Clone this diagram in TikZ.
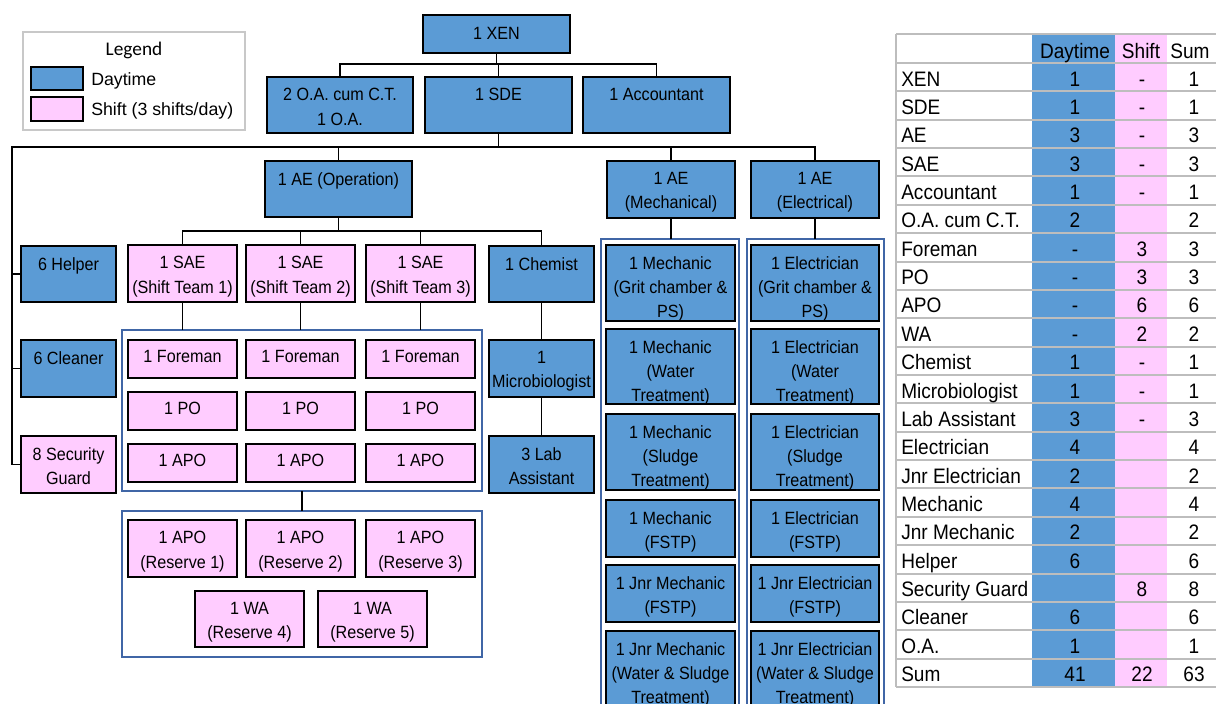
\documentclass[tikz,border=0pt]{standalone}
\usepackage{fontspec}
\setmainfont{Liberation Sans}[FakeStretch=0.91]
\newfontfamily\legfont{Liberation Sans}
\newfontfamily\headfont{Carlito}
\usetikzlibrary{fit}

\definecolor{dayblue}{HTML}{5B9BD5}
\definecolor{shiftpink}{HTML}{FFCCFF}
\definecolor{frameblue}{HTML}{4066A6}
\definecolor{gridgray}{HTML}{BDBDBD}
\definecolor{legendgray}{HTML}{C8C8C8}

\tikzset{
  daybox/.style={draw=black, fill=dayblue, line width=1.4pt, inner sep=0pt},
  shiftbox/.style={draw=black, fill=shiftpink, line width=1.4pt, inner sep=0pt},
  groupframe/.style={draw=frameblue, line width=1.1pt, inner sep=0pt},
  txt/.style={font=\fontsize{13.3}{18.3}\selectfont, align=center, inner sep=0pt, anchor=north},
  conn/.style={draw=black, line width=1.3pt, line cap=rect, line join=miter},
  gridline/.style={draw=gridgray, line width=1.5pt},
  tab/.style={font=\fontsize{15.7}{18}\selectfont, inner sep=0pt},
  legtext/.style={font=\legfont\fontsize{13.3}{16}\selectfont, inner sep=0pt, anchor=base west},
}

% box: [cap offset]{name}{style}{x1}{y1}{x2}{y2}{text}
\newcommand\orgbox[8][11]{%
  \node[#3, fit={(#4,#5)(#6,#7)}] (#2) {};
  \node[txt] (#2-t) at ({(#4+#6)/2},{#5+#1}) {#8};
}

\begin{document}
\begin{tikzpicture}[x=0.75pt, y=-0.75pt]
\useasboundingbox (0,0) rectangle (1216,703);
\clip (0,0) rectangle (1216,703);

% ---------- legend ----------
\node[draw=legendgray, line width=1.1pt, inner sep=0pt, fit={(23,32)(245,130)}] (legend) {};
\node[font=\headfont\fontsize{14.5}{16}\selectfont, inner sep=0pt, anchor=base] (legend-title) at (134,55) {Legend};
\node[daybox, fit={(31,67)(83,90)}] (leg-day) {};
\node[shiftbox, fit={(31,97)(83,121)}] (leg-shift) {};
\node[legtext] (leg-day-t) at (91,85) {Daytime};
\node[legtext] (leg-shift-t) at (91,115.5) {Shift (3 shifts/day)};

% ---------- management ----------
\orgbox[12.5]{xen}{daybox}{423}{15}{570}{53}{1 XEN}
\orgbox{oa}{daybox}{267}{77}{413}{133}{2 O.A. cum C.T.\\1 O.A.}
\orgbox{sde}{daybox}{425}{77}{572}{133}{1 SDE}
\orgbox{acc}{daybox}{583}{77}{730}{133}{1 Accountant}

\orgbox{aeop}{daybox}{265}{161}{412}{217}{1 AE (Operation)}
\orgbox{aemech}{daybox}{607}{161}{735}{218}{1 AE\\(Mechanical)}
\orgbox{aeelec}{daybox}{751}{161}{879}{218}{1 AE\\(Electrical)}

% ---------- general staff ----------
\orgbox{helper}{daybox}{21}{246}{116}{302}{6 Helper}
\orgbox{cleaner}{daybox}{21}{340}{116}{397}{6 Cleaner}
\orgbox{guard}{shiftbox}{21}{436}{116}{493}{8 Security\\Guard}

% ---------- operation shift teams ----------
\node[groupframe, fit={(122,330)(482,491)}] (team) {};
\node[groupframe, fit={(122,511)(482,657)}] (reserve) {};

\foreach \k/\xa/\xb in {1/128/237, 2/246/355, 3/366/475}{
  \orgbox{sae\k}{shiftbox}{\xa}{245}{\xb}{302}{1 SAE\\(Shift Team \k)}
  \orgbox[10]{fore\k}{shiftbox}{\xa}{340}{\xb}{378}{1 Foreman}
  \orgbox[10]{po\k}{shiftbox}{\xa}{392}{\xb}{430}{1 PO}
  \orgbox[10]{apo\k}{shiftbox}{\xa}{444}{\xb}{482}{1 APO}
  \orgbox{res\k}{shiftbox}{\xa}{520}{\xb}{577}{1 APO\\(Reserve \k)}
}
\orgbox{wa4}{shiftbox}{195}{591}{304}{647}{1 WA\\(Reserve 4)}
\orgbox{wa5}{shiftbox}{318}{591}{427}{647}{1 WA\\(Reserve 5)}

% ---------- laboratory ----------
\orgbox{chem}{daybox}{489}{246}{594}{302}{1 Chemist}
\orgbox{micro}{daybox}{489}{340}{594}{397}{1\\Microbiologist}
\orgbox{lab}{daybox}{489}{436}{594}{493}{3 Lab\\Assistant}

% ---------- mechanical and electrical ----------
\node[groupframe, fit={(601,239)(739,730)}] (mechgrp) {};
\node[groupframe, fit={(747,239)(884,730)}] (elecgrp) {};

\orgbox{mech1}{daybox}{606}{245}{735}{321}{1 Mechanic\\(Grit chamber \&\\PS)}
\orgbox{mech2}{daybox}{606}{329}{735}{404}{1 Mechanic\\(Water\\Treatment)}
\orgbox{mech3}{daybox}{606}{414}{735}{490}{1 Mechanic\\(Sludge\\Treatment)}
\orgbox{mech4}{daybox}{606}{500}{735}{557}{1 Mechanic\\(FSTP)}
\orgbox{mech5}{daybox}{606}{565}{735}{622}{1 Jnr Mechanic\\(FSTP)}
\orgbox{mech6}{daybox}{606}{631}{735}{715}{1 Jnr Mechanic\\(Water \& Sludge\\Treatment)}

\orgbox{elec1}{daybox}{751}{245}{879}{321}{1 Electrician\\(Grit chamber \&\\PS)}
\orgbox{elec2}{daybox}{751}{329}{879}{404}{1 Electrician\\(Water\\Treatment)}
\orgbox{elec3}{daybox}{751}{414}{879}{490}{1 Electrician\\(Sludge\\Treatment)}
\orgbox{elec4}{daybox}{751}{500}{879}{557}{1 Electrician\\(FSTP)}
\orgbox{elec5}{daybox}{751}{565}{879}{622}{1 Jnr Electrician\\(FSTP)}
\orgbox{elec6}{daybox}{751}{631}{879}{715}{1 Jnr Electrician\\(Water \& Sludge\\Treatment)}

% ---------- connectors ----------
\coordinate (j1) at (497,64);
\draw[conn] (xen.south) -- (xen.south |- j1);
\draw[conn] (oa.north) -- (oa.north |- j1) -- (acc.north |- j1) -- (acc.north);
\draw[conn] (sde.north) -- (sde.north |- j1);

\coordinate (j2) at (12,147);
\draw[conn] (sde.south) -- (sde.south |- j2);
\draw[conn] (guard.west) -| (j2) -- (aeelec.north |- j2) -- (aeelec.north);
\draw[conn] (helper.west) -- (helper.west -| j2);
\draw[conn] (cleaner.west) -- (cleaner.west -| j2);
\draw[conn] (aeop.north) -- (aeop.north |- j2);
\draw[conn] (aemech.north) -- (aemech.north |- j2);

\coordinate (j3) at (339,231);
\draw[conn] (aeop.south) -- (aeop.south |- j3);
\draw[conn] (sae1.north) -- (sae1.north |- j3) -- (chem.north |- j3) -- (chem.north);
\draw[conn] (sae2.north) -- (sae2.north |- j3);
\draw[conn] (sae3.north) -- (sae3.north |- j3);

\foreach \k in {1,2,3}{
  \draw[conn] (sae\k.south) -- (sae\k.south |- team.north);
}
\draw[conn] (team.south) -- (reserve.north);

\draw[conn] (chem.south) -- (micro.north);
\draw[conn] (micro.south) -- (lab.north);

\draw[conn] (aemech.south) -- (aemech.south |- mechgrp.north);
\draw[conn] (aeelec.south) -- (aeelec.south |- elecgrp.north);

% ---------- staffing table ----------
\fill[dayblue] (1032,34) rectangle (1115,687);
\fill[shiftpink] (1115,34) rectangle (1167,687);
\draw[gridline] (896,34) -- (1216,34);
\foreach \r in {0,...,22}{
  \draw[gridline] (896,{63+\r*28.364}) -- (1216,{63+\r*28.364});
}
\draw[gridline] (896,34) -- (896,687);

\node[tab, anchor=base] (h-day) at (1075,58) {Daytime};
\node[tab, anchor=base] (h-shift) at (1141,58) {Shift};
\node[tab, anchor=base] (h-sum) at (1190,58) {Sum};

\foreach \nm/\d/\s/\t [count=\i] in {
  XEN/1/-/1, SDE/1/-/1, AE/3/-/3, SAE/3/-/3, Accountant/1/-/1,
  O.A. cum C.T./2//2, Foreman/-/3/3, PO/-/3/3, APO/-/6/6, WA/-/2/2,
  Chemist/1/-/1, Microbiologist/1/-/1, Lab Assistant/3/-/3,
  Electrician/4//4, Jnr Electrician/2//2, Mechanic/4//4, Jnr Mechanic/2//2,
  Helper/6//6, Security Guard//8/8, Cleaner/6//6, O.A./1//1, Sum/41/22/63}{
  \pgfmathsetmacro\yb{63+(\i-1)*28.364+23}
  \node[tab, anchor=base west] (row\i) at (901,\yb) {\nm};
  \node[tab, anchor=base] (row\i-day) at (1075,\yb) {\d};
  \node[tab, anchor=base] (row\i-shift) at (1142,\yb) {\s};
  \node[tab, anchor=base] (row\i-sum) at (1194,\yb) {\t};
}
\end{tikzpicture}
\end{document}
